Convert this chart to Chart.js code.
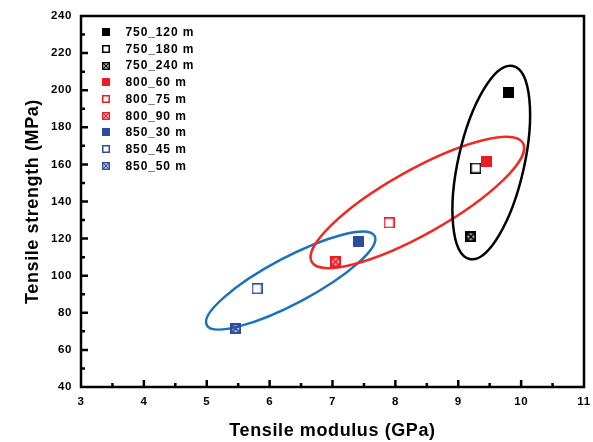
<!DOCTYPE html>
<html>
<head>
<meta charset="utf-8">
<script src="https://cdn.jsdelivr.net/npm/chart.js@4.4.1/dist/chart.umd.min.js"></script>
<style>
  html, body { margin: 0; padding: 0; background: #fff; }
</style>
</head>
<body>
<canvas id="c" width="593" height="442"></canvas>
<script>
// sample data
const sampleLabels = ["750_120 m", "750_180 m", "750_240 m", "800_60 m", "800_75 m", "800_90 m", "850_30 m", "850_45 m", "850_50 m"];
const modulus  = [9.8, 9.28, 9.2, 9.45, 7.9, 7.05, 7.42, 5.8, 5.46];
const strength = [198.5, 158, 121, 161.5, 128.5, 107.5, 118.5, 93, 71.5];
const markerKind  = ["filled", "open", "crossed", "filled", "open", "crossed", "filled", "open", "crossed"];
const markerColor = ["#000000", "#000000", "#000000", "#ED1C24", "#ED1C24", "#ED1C24", "#2E4C9E", "#2E4C9E", "#2E4C9E"];

// grouping ellipses: major-axis end points in data units (GPa, MPa)
const ellipseEnds = [
  [[5.0, 73.4], [7.67, 121.4]],
  [[6.67, 107.4], [10.03, 171.5]],
  [[9.18, 109], [9.87, 213]],
];
const ellipseStyle = [
  { color: "#1B73BE", half: 23 },
  { color: "#EE2A24", half: 32 },
  { color: "#000000", half: 33 },
];

const FONT = "'Liberation Sans', Arial, sans-serif";

function makeMarker(kind, color, size) {
  const c = document.createElement("canvas");
  c.width = size; c.height = size;
  const g = c.getContext("2d");
  g.strokeStyle = color; g.fillStyle = color;
  if (kind === "filled") {
    g.fillRect(0, 0, size, size);
  } else if (kind === "open") {
    g.lineWidth = 1.5;
    g.strokeRect(0.75, 0.75, size - 1.5, size - 1.5);
  } else {
    const lw = size > 9 ? 2.4 : 1.5;
    g.lineWidth = lw;
    g.strokeRect(lw / 2, lw / 2, size - lw, size - lw);
    g.lineWidth = size > 9 ? 2 : 1.1;
    g.beginPath();
    g.moveTo(lw, lw); g.lineTo(size - lw, size - lw);
    g.moveTo(size - lw, lw); g.lineTo(lw, size - lw);
    g.stroke();
  }
  return c;
}

const ellipses = {
  id: "ellipses",
  beforeDatasetsDraw(chart) {
    const { ctx, scales: { x, y } } = chart;
    ctx.save();
    ellipseEnds.forEach(([p, q], i) => {
      const x1 = x.getPixelForValue(p[0]), y1 = y.getPixelForValue(p[1]);
      const x2 = x.getPixelForValue(q[0]), y2 = y.getPixelForValue(q[1]);
      const a = Math.hypot(x2 - x1, y2 - y1) / 2;
      ctx.beginPath();
      ctx.ellipse((x1 + x2) / 2, (y1 + y2) / 2, a, ellipseStyle[i].half, Math.atan2(y2 - y1, x2 - x1), 0, Math.PI * 2);
      ctx.strokeStyle = ellipseStyle[i].color;
      ctx.lineWidth = 2.5;
      ctx.stroke();
    });
    ctx.restore();
  }
};

// frame with inward ticks, only left and bottom carry ticks
const frame = {
  id: "frame",
  beforeDraw(chart) { chart.ctx.letterSpacing = "0.6px"; },
  afterDatasetsDraw(chart) {
    const { ctx, chartArea: a, scales: { x, y } } = chart;
    ctx.save();
    ctx.strokeStyle = "#000";
    ctx.lineWidth = 2.5;
    ctx.strokeRect(a.left, a.top, a.right - a.left, a.bottom - a.top);
    ctx.beginPath();
    for (let v = 3.5; v < 11; v += 0.5) {
      const px = x.getPixelForValue(v), len = Number.isInteger(v) ? 7 : 4;
      ctx.moveTo(px, a.bottom); ctx.lineTo(px, a.bottom - len);
    }
    for (let v = 50; v < 240; v += 10) {
      const py = y.getPixelForValue(v), len = v % 20 === 0 ? 7 : 4;
      ctx.moveTo(a.left, py); ctx.lineTo(a.left + len, py);
    }
    ctx.stroke();
    ctx.restore();
  }
};

const legendBox = {
  id: "legendBox",
  afterDraw(chart) {
    const { ctx } = chart;
    ctx.save();
    ctx.font = "bold 12px " + FONT;
    ctx.fillStyle = "#000";
    ctx.textBaseline = "middle";
    ctx.letterSpacing = "0.9px";
    sampleLabels.forEach((lab, i) => {
      const yy = 32.3 + i * 16.68;
      ctx.drawImage(makeMarker(markerKind[i], markerColor[i], 8), 102, Math.round(yy - 4));
      ctx.fillText(lab, 125.5, yy + 0.5);
    });
    ctx.restore();
  }
};

new Chart(document.getElementById("c"), {
  type: "scatter",
  data: {
    datasets: sampleLabels.map((lab, i) => ({
      label: lab,
      data: [{ x: modulus[i], y: strength[i] }],
      pointStyle: makeMarker(markerKind[i], markerColor[i], 11),
      pointRadius: 6,
    })),
  },
  options: {
    responsive: false,
    animation: false,
    layout: { padding: { top: 16, right: 9, left: 0, bottom: 0 } },
    plugins: { legend: { display: false }, tooltip: { enabled: false } },
    scales: {
      x: {
        type: "linear", min: 3, max: 11,
        ticks: { stepSize: 1, padding: 8, color: "#000", font: { family: FONT, size: 11.5, weight: "bold" } },
        grid: { display: false, drawTicks: false },
        border: { display: false },
        title: { display: true, text: "Tensile modulus (GPa)", color: "#000", padding: { top: 0, bottom: 0 },
                 font: { family: FONT, size: 18, weight: "bold" } },
        afterFit: (s) => { s.height = 55; s.paddingRight = 0; s.paddingLeft = 0; },
      },
      y: {
        type: "linear", min: 40, max: 240,
        ticks: { stepSize: 20, padding: 9, color: "#000", font: { family: FONT, size: 11.5, weight: "bold" } },
        grid: { display: false, drawTicks: false },
        border: { display: false },
        title: { display: true, text: "Tensile strength (MPa)", color: "#000", padding: { top: 22, bottom: 0 },
                 font: { family: FONT, size: 18, weight: "bold" } },
        afterFit: (s) => { s.width = 81; s.paddingTop = 0; s.paddingBottom = 0; },
      },
    },
  },
  plugins: [ellipses, frame, legendBox],
});
</script>
</body>
</html>
